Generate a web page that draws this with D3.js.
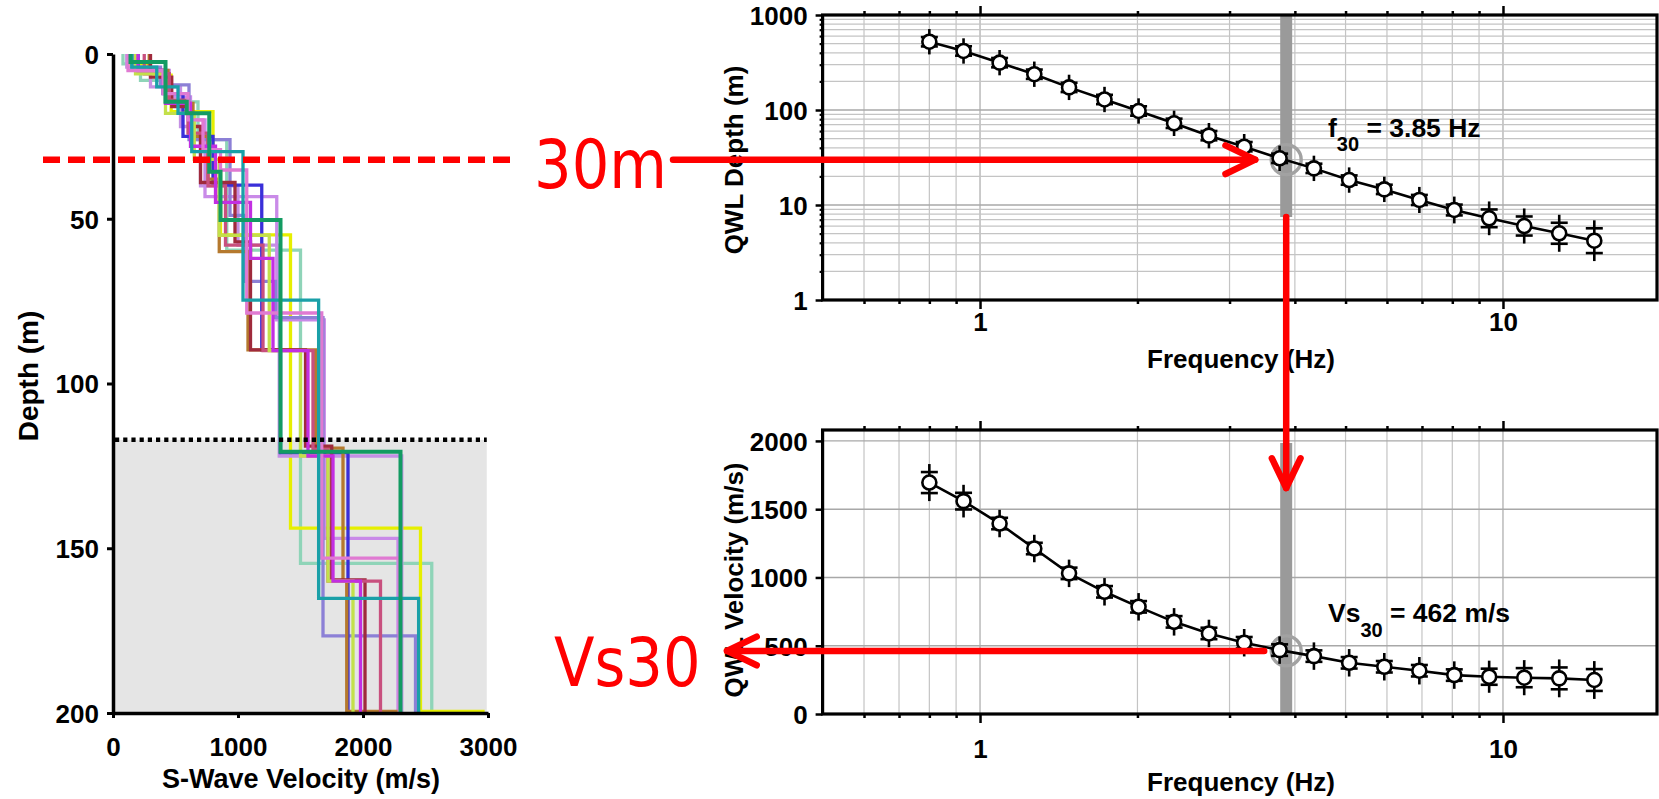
<!DOCTYPE html>
<html>
<head>
<meta charset="utf-8">
<script src="https://cdn.jsdelivr.net/npm/d3@7"></script>
<style>
  html, body { margin: 0; padding: 0; background: #fff; }
  svg { display: block; }
  .bold { font-family: "Liberation Sans", Arial, Helvetica, sans-serif; font-weight: bold; fill: #000; }
  .red { font-family: "DejaVu Sans", sans-serif; fill: #ff0000; }
</style>
</head>
<body>
<svg id="fig" width="1659" height="799"></svg>
<script>
// ---------------- data ----------------
// Vs profiles: each layer is [top depth (m), shear-wave velocity (m/s)]
const profileColors = [
  "#8fd4b8", "#e6ef00", "#c490e4", "#c98ae8", "#8c80d6", "#3a2fd9", "#b5792e",
  "#9f2a3c", "#c8507e", "#c3e04a", "#c22fe2", "#e07ad2", "#1aa0a8", "#139b62"
];
const profileLayers = [
  [[0, 80], [3, 220], [8, 420], [14.5, 680], [26, 910], [59.5, 1500], [154.6, 2550]],
  [[0, 120], [3, 300], [6.4, 465], [17.5, 800], [36, 860], [54.9, 1420], [143.9, 2460], [199.5, 2960]],
  [[0, 110], [4, 300], [10, 540], [22, 700], [40, 1000], [58, 1330], [122, 2310]],
  [[0, 200], [5, 450], [13, 620], [20, 736], [43.3, 1310], [80.7, 1690], [147, 2280]],
  [[0, 160], [4, 380], [9.4, 608], [26, 936], [49, 1060], [69, 1300], [80, 1680], [176.6, 2420]],
  [[0, 200], [5, 400], [12, 560], [25, 800], [39.8, 1190], [89.8, 1340], [121, 1880]],
  [[0, 290], [5, 440], [15, 640], [25, 760], [38, 850], [60, 1080], [89.8, 1620], [119.6, 1840], [160, 1870], [199.5, 2270]],
  [[0, 300], [7, 470], [16, 620], [22, 700], [39, 976], [57, 1100], [89.8, 1540], [119, 1750], [159.6, 2016]],
  [[0, 250], [6, 450], [14, 600], [24, 760], [40, 900], [58, 1200], [90, 1600], [120, 1720], [160, 2140]],
  [[0, 180], [6, 420], [18, 650], [32, 850], [55, 1250], [90, 1500], [122, 1720], [160, 1920]],
  [[0, 200], [5, 420], [15, 620], [28, 820], [45, 1100], [62, 1280], [90, 1560], [122, 1760], [160, 1980]],
  [[0, 120], [5, 400], [12, 600], [20, 720], [29, 860], [35.2, 1070], [78.6, 1670], [153, 2290]],
  [[0, 150], [4, 350], [10, 520], [18, 630], [29.6, 1040], [74.7, 1645], [165.2, 2445]],
  [[0, 140], [2.4, 420], [14.5, 590], [18, 770], [35.7, 860], [50.4, 1340], [120.7, 2300]]
];
const halfSpaceDepth = 117.1;     // top of the shaded half-space (m)
const maxDepth = 200;

// Quarter-wavelength results
const freqs = [0.80, 0.93, 1.09, 1.27, 1.48, 1.73, 2.01, 2.35, 2.74, 3.20,
               3.74, 4.35, 5.08, 5.93, 6.92, 8.07, 9.41, 10.98, 12.81, 14.95];
const qwlDepth = [523, 418, 315, 238, 173, 129, 97.6, 72.4, 53.7, 41.1,
                  31.0, 24.3, 18.3, 14.6, 11.3, 8.86, 7.24, 6.01, 5.04, 4.21];
const qwlDepthErr = [0.12, 0.12, 0.12, 0.12, 0.12, 0.12, 0.12, 0.12, 0.12, 0.12,
                     0.12, 0.12, 0.12, 0.12, 0.13, 0.14, 0.24, 0.26, 0.29, 0.35]; // relative (log-symmetric)
const qwlVel = [1695, 1559, 1395, 1212, 1030, 895, 785, 675, 590, 522,
                468, 424, 375, 346, 317, 285, 273, 266, 261, 249];
const qwlVelErr = [77, 61, 42, 42, 42, 42, 42, 42, 42, 42,
                   42, 42, 42, 42, 42, 42, 59, 70, 80, 80];

const f30 = 3.85;
const z30 = 30;
const vs30 = 462;

// tick values
const depthTicks = [0, 50, 100, 150, 200];
const velTicksLeft = [0, 1000, 2000, 3000];
const freqMajor = [1, 10];
const freqMinor = [0.6, 0.7, 0.8, 0.9, 2, 3, 4, 5, 6, 7, 8, 9];
const qwlDepthMajor = [1, 10, 100, 1000];
const qwlDepthMinor = [2, 3, 4, 5, 6, 7, 8, 9, 20, 30, 40, 50, 60, 70, 80, 90, 200, 300, 400, 500, 600, 700, 800, 900];
const qwlVelTicks = [0, 500, 1000, 1500, 2000];

// ---------------- drawing ----------------
const svg = d3.select("#fig");
svg.append("rect").attr("width", 1659).attr("height", 799).attr("fill", "#fff");

// ===== Left panel: Vs profiles =====
const xV = d3.scaleLinear().domain([0, 3000]).range([113, 488]);
const yD = d3.scaleLinear().domain([0, maxDepth]).range([54, 713]);
const left = svg.append("g");

left.append("rect")
  .attr("x", xV(0)).attr("y", yD(halfSpaceDepth))
  .attr("width", xV(2990) - xV(0)).attr("height", yD(maxDepth) - yD(halfSpaceDepth))
  .attr("fill", "#e5e5e5");

function stepPoints(layers) {
  const pts = [];
  layers.forEach((l, i) => {
    const bottom = i < layers.length - 1 ? layers[i + 1][0] : maxDepth;
    pts.push([l[1], l[0]], [l[1], bottom]);
  });
  return pts;
}
const profLine = d3.line().x(d => xV(d[0])).y(d => yD(d[1]));
profileLayers.forEach((layers, i) => {
  left.append("path")
    .attr("d", profLine(stepPoints(layers)))
    .attr("fill", "none")
    .attr("stroke", profileColors[i])
    .attr("stroke-width", i === profileLayers.length - 1 ? 4 : 3.3)
    .attr("stroke-linejoin", "miter");
});

left.append("line")
  .attr("x1", xV(0) + 2).attr("x2", xV(2990))
  .attr("y1", yD(halfSpaceDepth)).attr("y2", yD(halfSpaceDepth))
  .attr("stroke", "#000").attr("stroke-width", 4.5).attr("stroke-dasharray", "4.2,4");

const axL = left.append("g").attr("transform", `translate(${xV(0)},0)`)
  .call(d3.axisLeft(yD).tickValues(depthTicks).tickSize(6).tickPadding(8).tickSizeOuter(0)
    .tickFormat(d3.format("d")));
const axB = left.append("g").attr("transform", `translate(0,${yD(maxDepth)})`)
  .call(d3.axisBottom(xV).tickValues(velTicksLeft).tickSize(5).tickPadding(20).tickSizeOuter(0)
    .tickFormat(d3.format("d")));
[axL, axB].forEach(a => {
  a.select(".domain").attr("stroke-width", 3.5).attr("stroke", "#000");
  a.selectAll(".tick line").attr("stroke-width", 3).attr("stroke", "#000");
  a.selectAll(".tick text").attr("class", "bold").attr("font-size", 26).attr("fill", "#000");
});
axL.selectAll(".tick text").attr("dy", "0.36em");

left.append("text").attr("class", "bold").attr("font-size", 28)
  .attr("text-anchor", "middle")
  .attr("transform", "translate(38,376) rotate(-90)")
  .text("Depth (m)");
left.append("text").attr("class", "bold").attr("font-size", 27)
  .attr("text-anchor", "middle").attr("x", 301).attr("y", 788)
  .text("S-Wave Velocity (m/s)");

// ===== Right panels =====
const X0 = 822.6, X1 = 1657;
const xF = d3.scaleLog().domain([0.5, 20]).range([822.6, 1660.4]);
const yQ = d3.scaleLog().domain([1, 1000]).range([300, 15]);
const yS = d3.scaleLinear().domain([0, 2080]).range([714, 430]);

function drawPanel(yScale, yTop, yBot, hGridMinor, hGridMajor) {
  const g = svg.append("g");
  const grid = g.append("g");
  freqMinor.concat(freqMajor).forEach(f => {
    grid.append("line").attr("x1", xF(f)).attr("x2", xF(f)).attr("y1", yTop).attr("y2", yBot)
      .attr("stroke", freqMajor.includes(f) ? "#a8a8a8" : "#c4c4c4").attr("stroke-width", 1.2);
  });
  hGridMinor.forEach(v => {
    grid.append("line").attr("x1", X0).attr("x2", X1).attr("y1", yScale(v)).attr("y2", yScale(v))
      .attr("stroke", "#c4c4c4").attr("stroke-width", 1.2);
  });
  hGridMajor.forEach(v => {
    grid.append("line").attr("x1", X0).attr("x2", X1).attr("y1", yScale(v)).attr("y2", yScale(v))
      .attr("stroke", "#a8a8a8").attr("stroke-width", 1.4);
  });
  return g;
}

function styleTicks(a, w) {
  a.select(".domain").remove();
  a.selectAll(".tick line").attr("stroke", "#000").attr("stroke-width", w);
  a.selectAll(".tick text").attr("class", "bold").attr("font-size", 26).attr("fill", "#000");
}

function drawFrameAndAxes(g, yTop, yBot, labelPad) {
  g.append("rect").attr("x", X0).attr("y", yTop).attr("width", X1 - X0).attr("height", yBot - yTop)
    .attr("fill", "none").attr("stroke", "#000").attr("stroke-width", 3.2);
  [[d3.axisTop, yTop], [d3.axisBottom, yBot]].forEach(([ax, yy]) => {
    styleTicks(g.append("g").attr("transform", `translate(0,${yy})`)
      .call(ax(xF).tickValues(freqMinor).tickSize(4).tickFormat("")), 2.5);
    styleTicks(g.append("g").attr("transform", `translate(0,${yy})`)
      .call(ax(xF).tickValues(freqMajor).tickSize(9).tickFormat("")), 2.5);
  });
  styleTicks(g.append("g").attr("transform", `translate(0,${yBot})`)
    .call(d3.axisBottom(xF).tickValues(freqMajor).tickSize(0).tickPadding(labelPad).tickFormat(d3.format("d"))), 0);
}

// --- top: QWL depth ---
const topG = drawPanel(yQ, 15, 300, qwlDepthMinor, qwlDepthMajor.slice(1, 3));
topG.append("rect").attr("x", xF(f30) - 6).attr("width", 12).attr("y", 16).attr("height", 217 - 16)
  .attr("fill", "#9a9a9a");
topG.append("circle").attr("cx", xF(f30)).attr("cy", yQ(z30)).attr("r", 15)
  .attr("fill", "none").attr("stroke", "#a2a2a2").attr("stroke-width", 3.4);

const ext = 8, capW = 8.5;
function drawSeries(g, yScale, vals, lo, hi) {
  g.append("path")
    .attr("d", d3.line().x((d, i) => xF(freqs[i])).y(d => yScale(d))(vals))
    .attr("fill", "none").attr("stroke", "#000").attr("stroke-width", 2.6);
  vals.forEach((v, i) => {
    const cx = xF(freqs[i]);
    const yl = yScale(lo[i]), yh = yScale(hi[i]);
    const yMin = Math.min(yl, yh), yMax = Math.max(yl, yh);
    const eb = g.append("g").attr("stroke", "#000").attr("stroke-width", 2.6);
    eb.append("line").attr("x1", cx).attr("x2", cx).attr("y1", yMin - ext).attr("y2", yMax + ext);
    eb.append("line").attr("x1", cx - capW).attr("x2", cx + capW).attr("y1", yMin).attr("y2", yMin);
    eb.append("line").attr("x1", cx - capW).attr("x2", cx + capW).attr("y1", yMax).attr("y2", yMax);
  });
  vals.forEach((v, i) => {
    g.append("circle").attr("cx", xF(freqs[i])).attr("cy", yScale(v)).attr("r", 7)
      .attr("fill", "#fff").attr("stroke", "#000").attr("stroke-width", 2.6);
  });
}
drawSeries(topG, yQ, qwlDepth,
  qwlDepth.map((d, i) => d / (1 + qwlDepthErr[i])),
  qwlDepth.map((d, i) => d * (1 + qwlDepthErr[i])));
drawFrameAndAxes(topG, 15, 300, 13);
styleTicks(topG.append("g").attr("transform", `translate(${X0},0)`)
  .call(d3.axisLeft(yQ).tickValues(qwlDepthMinor).tickSize(3).tickFormat("")), 2.2);
const tqm = topG.append("g").attr("transform", `translate(${X0},0)`)
  .call(d3.axisLeft(yQ).tickValues(qwlDepthMajor).tickSize(7).tickPadding(8).tickFormat(d3.format("d")));
styleTicks(tqm, 2.5);
tqm.selectAll(".tick text").attr("dy", "0.36em");

topG.append("text").attr("class", "bold").attr("font-size", 26).attr("text-anchor", "middle")
  .attr("transform", "translate(743,160) rotate(-90)").text("QWL Depth (m)");
topG.append("text").attr("class", "bold").attr("font-size", 26).attr("text-anchor", "middle")
  .attr("x", 1241).attr("y", 368).text("Frequency (Hz)");
const fLab = topG.append("text").attr("class", "bold").attr("font-size", 26.5).attr("x", 1328).attr("y", 137);
fLab.append("tspan").text("f");
fLab.append("tspan").attr("font-size", 20).attr("dy", 14).text("30");
fLab.append("tspan").attr("dy", -14).text(" = " + f30.toFixed(2) + " Hz");

// --- bottom: QWL velocity ---
const botG = drawPanel(yS, 430, 714, [], qwlVelTicks.slice(1));
botG.append("rect").attr("x", xF(f30) - 6).attr("width", 12).attr("y", 443).attr("height", 714 - 443)
  .attr("fill", "#9a9a9a");
botG.append("circle").attr("cx", xF(f30)).attr("cy", yS(vs30)).attr("r", 15)
  .attr("fill", "none").attr("stroke", "#a2a2a2").attr("stroke-width", 3.4);
drawSeries(botG, yS, qwlVel,
  qwlVel.map((v, i) => v - qwlVelErr[i]),
  qwlVel.map((v, i) => v + qwlVelErr[i]));
drawFrameAndAxes(botG, 430, 714, 26);
const tvm = botG.append("g").attr("transform", `translate(${X0},0)`)
  .call(d3.axisLeft(yS).tickValues(qwlVelTicks).tickSize(7).tickPadding(8).tickFormat(d3.format("d")));
styleTicks(tvm, 2.5);
tvm.selectAll(".tick text").attr("dy", "0.36em");

botG.append("text").attr("class", "bold").attr("font-size", 26).attr("text-anchor", "middle")
  .attr("transform", "translate(743,580) rotate(-90)").text("QWL Velocity (m/s)");
botG.append("text").attr("class", "bold").attr("font-size", 26).attr("text-anchor", "middle")
  .attr("x", 1241).attr("y", 791).text("Frequency (Hz)");
const vLab = botG.append("text").attr("class", "bold").attr("font-size", 26.5).attr("x", 1328).attr("y", 622);
vLab.append("tspan").text("Vs");
vLab.append("tspan").attr("font-size", 20).attr("dy", 15).text("30");
vLab.append("tspan").attr("dy", -15).text(" = " + vs30 + " m/s");

// ===== Red annotations =====
const ann = svg.append("g").attr("stroke", "#ff0000").attr("stroke-width", 6.5)
  .attr("stroke-linecap", "round").attr("fill", "none");
const yLine = yQ(z30);
const yVs = yS(vs30);
const xf30 = xF(f30);

// dashed depth marker across the profiles
ann.append("line").attr("x1", 43).attr("x2", 510).attr("y1", yLine).attr("y2", yLine)
  .attr("stroke-linecap", "butt").attr("stroke-dasharray", "17,8");

function arrow(x1, y1, x2, y2) {
  ann.append("line").attr("x1", x1).attr("y1", y1).attr("x2", x2).attr("y2", y2);
  const a = Math.atan2(y2 - y1, x2 - x1), L = 33, s = 0.45;
  ann.append("path").attr("stroke-linejoin", "round").attr("d",
    `M${x2 - L * Math.cos(a - s)},${y2 - L * Math.sin(a - s)} L${x2},${y2} L${x2 - L * Math.cos(a + s)},${y2 - L * Math.sin(a + s)}`);
}
arrow(673, yLine, xf30 - 31, yLine);
arrow(xf30, 217, xf30, 488);
arrow(xf30 - 22, yVs, 727, yVs);

svg.append("text").attr("class", "red").attr("font-size", 68)
  .attr("transform", "translate(534,188) scale(0.87,1)").text("30m");
svg.append("text").attr("class", "red").attr("font-size", 68)
  .attr("transform", "translate(554,686) scale(0.87,1)").text("Vs30");
</script>
</body>
</html>
